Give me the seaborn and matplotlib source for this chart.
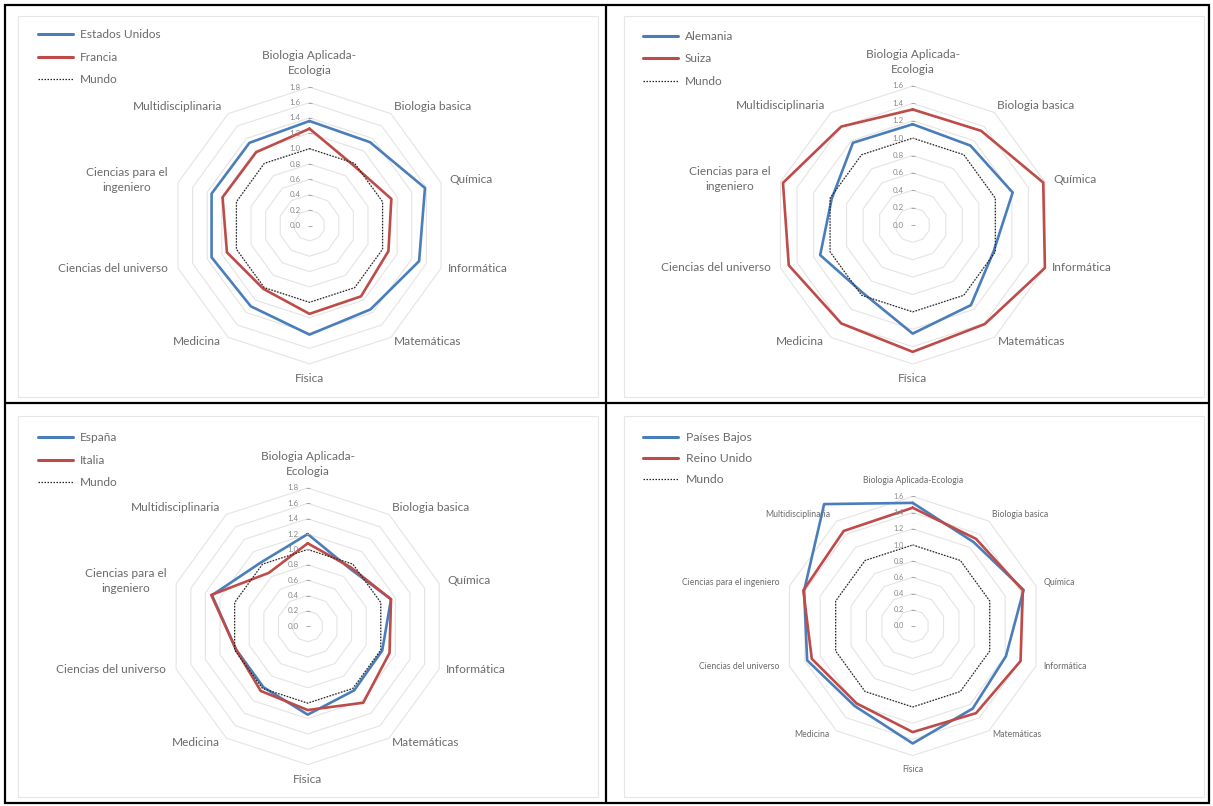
import numpy as np
import pandas as pd
import matplotlib
matplotlib.use("Agg")
import matplotlib.pyplot as plt
import seaborn as sns
from matplotlib.lines import Line2D
from matplotlib.patches import Rectangle
from matplotlib.transforms import offset_copy

# ---------------- data ----------------
categories = ["Biologia Aplicada-Ecologia", "Biologia basica", "Química", "Informática",
              "Matemáticas", "Física", "Medicina", "Ciencias del universo",
              "Ciencias para el ingeniero", "Multidisciplinaria"]
categories_wrapped = ["Biologia Aplicada-\nEcologia", "Biologia basica", "Química", "Informática",
                      "Matemáticas", "Física", "Medicina", "Ciencias del universo",
                      "Ciencias para el\ningeniero", "Multidisciplinaria"]

estados_unidos = [1.36, 1.34, 1.58, 1.50, 1.35, 1.42, 1.30, 1.34, 1.34, 1.33]
francia        = [1.26, 0.97, 1.12, 1.08, 1.14, 1.15, 1.02, 1.13, 1.19, 1.18]

alemania = [1.16, 1.13, 1.21, 0.98, 1.14, 1.25, 0.97, 1.12, 0.98, 1.17]
suiza    = [1.33, 1.34, 1.58, 1.60, 1.41, 1.46, 1.40, 1.50, 1.57, 1.40]

espana = [1.20, 0.93, 1.14, 1.02, 1.03, 1.15, 0.98, 0.98, 1.31, 1.03]
italia = [1.08, 0.95, 1.14, 1.12, 1.23, 1.09, 1.04, 0.98, 1.32, 0.86]

paises_bajos = [1.52, 1.28, 1.44, 1.21, 1.26, 1.45, 1.22, 1.37, 1.41, 1.86]
reino_unido  = [1.46, 1.33, 1.43, 1.40, 1.33, 1.31, 1.18, 1.31, 1.42, 1.45]

mundo = [1.0, 1.0, 1.0, 1.0, 1.0, 1.0, 1.0, 1.0, 1.0, 1.0]

ticks_18 = [0.0, 0.2, 0.4, 0.6, 0.8, 1.0, 1.2, 1.4, 1.6, 1.8]
ticks_16 = [0.0, 0.2, 0.4, 0.6, 0.8, 1.0, 1.2, 1.4, 1.6]

# ---------------- style ----------------
sns.set_theme(style="white")
plt.rcParams["font.family"] = ["Lato", "DejaVu Sans"]

BLUE = "#4A7EBB"
RED = "#BE4B48"
GRID = "#E6E3E3"
TXT = "#6B6B6B"

W, H = 1213, 806
fig = plt.figure(figsize=(W / 100, H / 100), dpi=100)
fig.patch.set_facecolor("white")

panels = [
    dict(center=(309.5, 225.5), R=138.3, ticks=ticks_18, labels=categories_wrapped, lfs=8.6, tfs=5.8,
         series=[("Estados Unidos", estados_unidos), ("Francia", francia)], leg=(38, 29), legfs=8.6, legsp=0.98),
    dict(center=(912.7, 225.0), R=139.0, ticks=ticks_16, labels=categories_wrapped, lfs=8.6, tfs=5.8,
         series=[("Alemania", alemania), ("Suiza", suiza)], leg=(643, 31), legfs=8.6, legsp=0.95),
    dict(center=(307.7, 626.3), R=138.3, ticks=ticks_18, labels=categories_wrapped, lfs=8.6, tfs=5.8,
         series=[("España", espana), ("Italia", italia)], leg=(38, 432), legfs=8.6, legsp=0.98),
    dict(center=(912.7, 626.0), R=129.6, ticks=ticks_16, labels=categories, lfs=6.2, tfs=5.3,
         series=[("Países Bajos", paises_bajos), ("Reino Unido", reino_unido)], leg=(643, 432), legfs=8.8, legsp=0.82),
]

n = len(categories)
theta = np.linspace(0, 2 * np.pi, n, endpoint=False)
theta_c = np.append(theta, 2 * np.pi)

# label offsets in pixels (dx right, dy up), and alignment
lab_off = [(0, 11, "center", "bottom"), (3, 7, "left", "center"), (8, 3, "left", "center"),
           (7, 0, "left", "center"), (3, -4, "left", "center"), (0, -9, "center", "top"),
           (-7, -4, "right", "center"), (-10, 0, "right", "center"), (-10, 3, "right", "center"),
           (-6, 7, "right", "center")]

for p in panels:
    cx, cy = p["center"]
    R = p["R"]
    rmax = p["ticks"][-1]
    ax = fig.add_axes([(cx - R) / W, 1 - (cy + R) / H, 2 * R / W, 2 * R / H], projection="polar")
    ax.set_theta_offset(np.pi / 2)
    ax.set_theta_direction(-1)
    ax.set_facecolor("none")
    ax.grid(False)
    ax.spines["polar"].set_visible(False)

    # decagon rings
    for v in p["ticks"][1:]:
        ax.plot(theta_c, [v] * (n + 1), color=GRID, lw=0.8, zorder=0)

    # series via seaborn
    rows = []
    names = [s[0] for s in p["series"]] + ["Mundo"]
    vals = [s[1] for s in p["series"]] + [mundo]
    for nm, vv in zip(names, vals):
        vc = list(vv) + [vv[0]]
        for t, r in zip(theta_c, vc):
            rows.append(dict(serie=nm, theta=t, r=r))
    df = pd.DataFrame(rows)
    palette = {names[0]: BLUE, names[1]: RED, "Mundo": "#222222"}
    sizes = {names[0]: 1.9, names[1]: 1.9, "Mundo": 0.9}
    dashes = {names[0]: "", names[1]: "", "Mundo": (1.2, 1.2)}
    sns.lineplot(data=df, x="theta", y="r", hue="serie", size="serie", style="serie",
                 palette=palette, sizes=sizes, dashes=dashes, sort=False, estimator=None,
                 ax=ax, legend=False)
    for ln in ax.lines:
        ln.set_clip_on(False)
    ax.set_xlabel("")
    ax.set_ylabel("")
    ax.set_xticks([])
    ax.set_yticks([])
    ax.set_ylim(0, rmax)

    # radial tick labels
    trans = offset_copy(ax.transData, fig=fig, x=-9, y=0, units="dots")
    for v in p["ticks"]:
        ax.text(0, v, f"{v:.1f}", transform=trans, ha="right", va="center",
                fontsize=p["tfs"], color="#8A8A8A", clip_on=False)
        ax.plot([0], [v], marker="_", markersize=3.5, color="#A8A8A8", mew=0.7, clip_on=False)

    # category labels
    for t, lab, (dx, dy, ha, va) in zip(theta, p["labels"], lab_off):
        ax.annotate(lab, xy=(t, rmax), xytext=(dx * 0.72, dy * 0.72), textcoords="offset points",
                    ha=ha, va=va, fontsize=p["lfs"], color=TXT, annotation_clip=False,
                    multialignment="center", linespacing=1.45)

    # legend
    handles = [Line2D([], [], color=BLUE, lw=2.2),
               Line2D([], [], color=RED, lw=2.2),
               Line2D([], [], color="#222222", lw=0.9, dashes=(1.2, 1.2))]
    lx, ly = p["leg"]
    leg = ax.legend(handles, names, loc="upper left", bbox_to_anchor=(lx / W, 1 - ly / H),
                    bbox_transform=fig.transFigure, frameon=False, fontsize=p["legfs"],
                    handlelength=2.9, handletextpad=0.6, labelspacing=p["legsp"],
                    borderpad=0, borderaxespad=0)
    for tx in leg.get_texts():
        tx.set_color(TXT)

# chart-area light borders
for (x0, y0, x1, y1) in [(18, 16, 598, 397), (624, 16, 1204, 397),
                         (18, 416, 598, 797), (624, 416, 1204, 797)]:
    fig.add_artist(Rectangle((x0 / W, 1 - y1 / H), (x1 - x0) / W, (y1 - y0) / H,
                             transform=fig.transFigure, fill=False, ec="#E6E6E6", lw=0.8))

# black frame grid
fig.add_artist(Rectangle((5 / W, 1 - 803 / H), (1209 - 5) / W, (803 - 5) / H,
                         transform=fig.transFigure, fill=False, ec="black", lw=1.6))
fig.add_artist(Line2D([606 / W, 606 / W], [1 - 803 / H, 1 - 5 / H], transform=fig.transFigure,
                      color="black", lw=1.6))
fig.add_artist(Line2D([5 / W, 1209 / W], [1 - 403 / H, 1 - 403 / H], transform=fig.transFigure,
                      color="black", lw=1.6))

fig.savefig("out.png", dpi=100, facecolor="white")
